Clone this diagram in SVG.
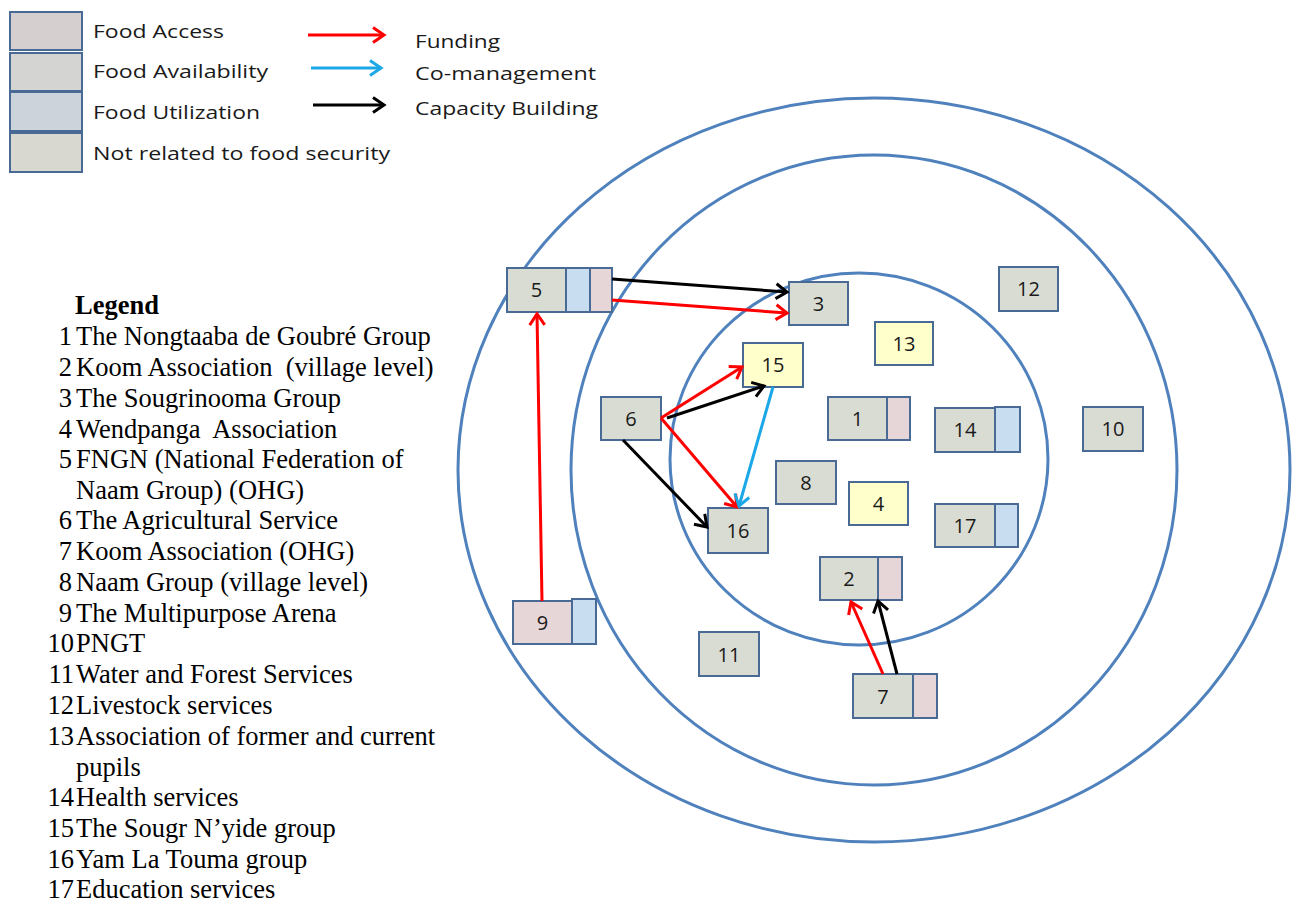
<svg xmlns="http://www.w3.org/2000/svg" width="1295" height="905" viewBox="0 0 1295 905">
  <style>
    .ring { fill: none; stroke: #4F81BD; stroke-width: 3; }
    .box { stroke: #4A6A96; stroke-width: 2; }
    .main { fill: #D9DCD3; }
    .acc { fill: #E7D6D8; }
    .util { fill: #C8DDF0; }
    .other { fill: #FFFFCC; }
    .num { font-family: "Open Sans", "Liberation Sans", Arial, sans-serif; font-size: 20px; fill: #1A1A1A; text-anchor: middle; }
    .key { font-family: "Open Sans", "Liberation Sans", sans-serif; font-size: 19px; fill: #1A1A1A; }
    .list { font-family: "Liberation Serif", "Times New Roman", serif; font-size: 26.5px; fill: #000; }
    .idx { text-anchor: end; }
    .fund { stroke: #FF0000; }
    .coman { stroke: #1CA8E6; }
    .cap { stroke: #000000; }
    .edge { fill: none; stroke-width: 3; }
  </style>
  <defs>
    <marker id="headRed" viewBox="-14 -10 17 20" refX="0" refY="0" markerWidth="17" markerHeight="20" markerUnits="userSpaceOnUse" orient="auto">
      <path d="M-11,-7.5 L0,0 L-11,7.5" fill="none" stroke="#FF0000" stroke-width="3"/>
    </marker>
    <marker id="headBlue" viewBox="-14 -10 17 20" refX="0" refY="0" markerWidth="17" markerHeight="20" markerUnits="userSpaceOnUse" orient="auto">
      <path d="M-11,-7.5 L0,0 L-11,7.5" fill="none" stroke="#1CA8E6" stroke-width="3"/>
    </marker>
    <marker id="headBlack" viewBox="-14 -10 17 20" refX="0" refY="0" markerWidth="17" markerHeight="20" markerUnits="userSpaceOnUse" orient="auto">
      <path d="M-11,-7.5 L0,0 L-11,7.5" fill="none" stroke="#000000" stroke-width="3"/>
    </marker>
  </defs>

  <rect width="1295" height="905" fill="#FFFFFF"/>

  <!-- category key -->
  <g id="key-categories">
    <rect class="box" x="10" y="12" width="72" height="38" fill="#D5CFD0"/>
    <rect class="box" x="10" y="53" width="72" height="38" fill="#D4D4D2"/>
    <rect class="box" x="10" y="92" width="72" height="39" fill="#CDD3DA"/>
    <rect class="box" x="10" y="133" width="72" height="39" fill="#D8D8D0"/>
    <text class="key" x="93" y="38" textLength="131" lengthAdjust="spacingAndGlyphs">Food Access</text>
    <text class="key" x="93" y="78" textLength="175" lengthAdjust="spacingAndGlyphs">Food Availability</text>
    <text class="key" x="93" y="119" textLength="167" lengthAdjust="spacingAndGlyphs">Food Utilization</text>
    <text class="key" x="93" y="160" textLength="297" lengthAdjust="spacingAndGlyphs">Not related to food security</text>
  </g>

  <!-- link type key -->
  <g id="key-links">
    <line class="edge fund" x1="308" y1="35" x2="384" y2="35" marker-end="url(#headRed)"/>
    <line class="edge coman" x1="311" y1="68" x2="381" y2="68" marker-end="url(#headBlue)"/>
    <line class="edge cap" x1="313" y1="105" x2="384" y2="105" marker-end="url(#headBlack)"/>
    <text class="key" x="415" y="48" textLength="85" lengthAdjust="spacingAndGlyphs">Funding</text>
    <text class="key" x="415" y="80" textLength="181" lengthAdjust="spacingAndGlyphs">Co-management</text>
    <text class="key" x="415" y="115" textLength="183" lengthAdjust="spacingAndGlyphs">Capacity Building</text>
  </g>

  <!-- numbered list of actors -->
  <g id="actor-list" class="list">
    <text x="75" y="314" font-weight="bold">Legend</text>
    <text class="idx" x="72" y="345">1</text><text x="76" y="345">The Nongtaaba de Goubré Group</text>
    <text class="idx" x="72" y="376">2</text><text x="76" y="376" xml:space="preserve">Koom Association  (village level)</text>
    <text class="idx" x="72" y="407">3</text><text x="76" y="407">The Sougrinooma Group</text>
    <text class="idx" x="72" y="438">4</text><text x="76" y="438" xml:space="preserve">Wendpanga  Association</text>
    <text class="idx" x="72" y="468">5</text><text x="76" y="468">FNGN (National Federation of</text>
    <text x="76" y="499">Naam Group) (OHG)</text>
    <text class="idx" x="72" y="529">6</text><text x="76" y="529">The Agricultural Service</text>
    <text class="idx" x="72" y="560">7</text><text x="76" y="560">Koom Association (OHG)</text>
    <text class="idx" x="72" y="591">8</text><text x="76" y="591">Naam Group (village level)</text>
    <text class="idx" x="72" y="622">9</text><text x="76" y="622">The Multipurpose Arena</text>
    <text class="idx" x="74" y="652">10</text><text x="76" y="652">PNGT</text>
    <text class="idx" x="74" y="683">11</text><text x="76" y="683">Water and Forest Services</text>
    <text class="idx" x="74" y="714">12</text><text x="76" y="714">Livestock services</text>
    <text class="idx" x="74" y="745">13</text><text x="76" y="745">Association of former and current</text>
    <text x="76" y="776">pupils</text>
    <text class="idx" x="74" y="806">14</text><text x="76" y="806">Health services</text>
    <text class="idx" x="74" y="837">15</text><text x="76" y="837">The Sougr N’yide group</text>
    <text class="idx" x="74" y="868">16</text><text x="76" y="868">Yam La Touma group</text>
    <text class="idx" x="74" y="898">17</text><text x="76" y="898">Education services</text>
  </g>

  <!-- concentric zones -->
  <g id="zones">
    <ellipse class="ring" cx="874" cy="470" rx="416" ry="372"/>
    <ellipse class="ring" cx="874" cy="470" rx="303" ry="315"/>
    <ellipse class="ring" cx="859" cy="459" rx="189" ry="186"/>
  </g>

  <!-- actors -->
  <g id="node-5">
    <rect class="box main" x="507" y="268" width="59" height="44"/>
    <rect class="box util" x="566" y="268" width="24" height="44"/>
    <rect class="box acc" x="590" y="268" width="22" height="44"/>
    <text class="num" x="536.5" y="297">5</text>
  </g>
  <g id="node-3">
    <rect class="box main" x="789" y="282" width="59" height="43"/>
    <text class="num" x="818.5" y="311">3</text>
  </g>
  <g id="node-12">
    <rect class="box main" x="999" y="267" width="59" height="44"/>
    <text class="num" x="1028.5" y="296">12</text>
  </g>
  <g id="node-13">
    <rect class="box other" x="875" y="322" width="58" height="43"/>
    <text class="num" x="904" y="351">13</text>
  </g>
  <g id="node-15">
    <rect class="box other" x="743" y="343" width="60" height="44"/>
    <text class="num" x="773" y="372">15</text>
  </g>
  <g id="node-6">
    <rect class="box main" x="601" y="397" width="60" height="43"/>
    <text class="num" x="631" y="426">6</text>
  </g>
  <g id="node-1">
    <rect class="box main" x="828" y="397" width="59" height="43"/>
    <rect class="box acc" x="887" y="397" width="23" height="43"/>
    <text class="num" x="857.5" y="426">1</text>
  </g>
  <g id="node-14">
    <rect class="box main" x="935" y="408" width="60" height="44"/>
    <rect class="box util" x="995" y="407" width="25" height="45"/>
    <text class="num" x="965" y="437">14</text>
  </g>
  <g id="node-10">
    <rect class="box main" x="1083" y="407" width="60" height="44"/>
    <text class="num" x="1113" y="436">10</text>
  </g>
  <g id="node-8">
    <rect class="box main" x="776" y="461" width="60" height="43"/>
    <text class="num" x="806" y="490">8</text>
  </g>
  <g id="node-4">
    <rect class="box other" x="849" y="482" width="59" height="43"/>
    <text class="num" x="878.5" y="511">4</text>
  </g>
  <g id="node-17">
    <rect class="box main" x="935" y="504" width="60" height="43"/>
    <rect class="box util" x="995" y="504" width="23" height="43"/>
    <text class="num" x="965" y="533">17</text>
  </g>
  <g id="node-16">
    <rect class="box main" x="708" y="508" width="60" height="45"/>
    <text class="num" x="738" y="538">16</text>
  </g>
  <g id="node-2">
    <rect class="box main" x="820" y="557" width="58" height="43"/>
    <rect class="box acc" x="878" y="557" width="24" height="43"/>
    <text class="num" x="849" y="586">2</text>
  </g>
  <g id="node-9">
    <rect class="box acc" x="513" y="601" width="59" height="43"/>
    <rect class="box util" x="572" y="599" width="24" height="45"/>
    <text class="num" x="542.5" y="630">9</text>
  </g>
  <g id="node-11">
    <rect class="box main" x="699" y="632" width="60" height="44"/>
    <text class="num" x="729" y="662">11</text>
  </g>
  <g id="node-7">
    <rect class="box main" x="853" y="674" width="60" height="44"/>
    <rect class="box acc" x="913" y="674" width="24" height="44"/>
    <text class="num" x="883" y="704">7</text>
  </g>

  <!-- links between actors -->
  <g id="connectors">
    <line class="edge cap" x1="612" y1="279" x2="787" y2="292" marker-end="url(#headBlack)"/>
    <line class="edge fund" x1="612" y1="300" x2="787" y2="313" marker-end="url(#headRed)"/>
    <line class="edge fund" x1="542" y1="601" x2="537" y2="314" marker-end="url(#headRed)"/>
    <line class="edge fund" x1="661" y1="418" x2="742" y2="367" marker-end="url(#headRed)"/>
    <line class="edge cap" x1="667" y1="418" x2="764" y2="386" marker-end="url(#headBlack)"/>
    <line class="edge fund" x1="661" y1="418" x2="737" y2="507" marker-end="url(#headRed)"/>
    <line class="edge cap" x1="623" y1="440" x2="707" y2="527" marker-end="url(#headBlack)"/>
    <line class="edge coman" x1="773" y1="387" x2="739" y2="506" marker-end="url(#headBlue)"/>
    <line class="edge fund" x1="883" y1="674" x2="851" y2="602" marker-end="url(#headRed)"/>
    <line class="edge cap" x1="897" y1="674" x2="878" y2="601" marker-end="url(#headBlack)"/>
  </g>
</svg>
